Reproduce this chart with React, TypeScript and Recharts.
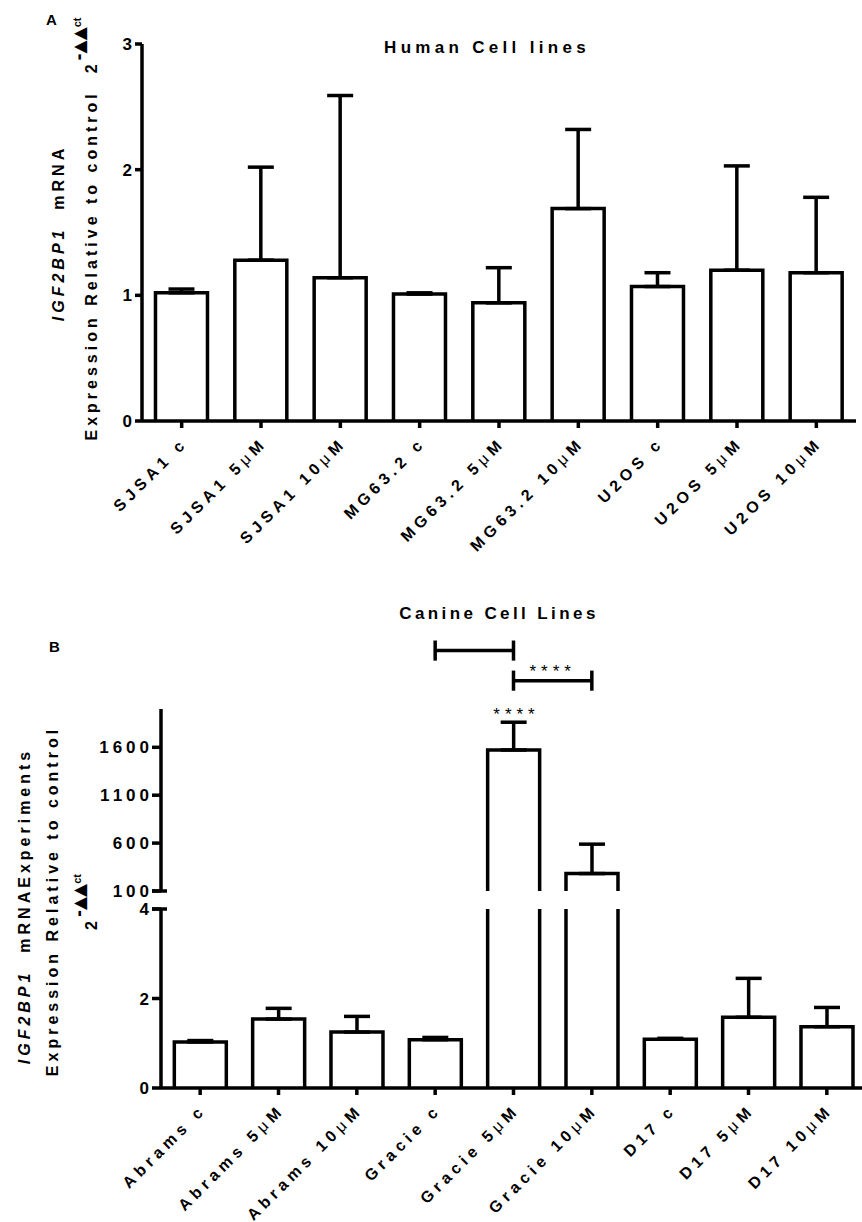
import React from 'react'
import { BarChart, Bar, XAxis, YAxis, ErrorBar, ReferenceLine, ReferenceDot } from 'recharts'

const FONT = "'Liberation Sans', Arial, sans-serif"

// Panel A - human cell lines
const humanLines = ['SJSA1 c', 'SJSA1 5μM', 'SJSA1 10μM', 'MG63.2 c', 'MG63.2 5μM', 'MG63.2 10μM', 'U2OS c', 'U2OS 5μM', 'U2OS 10μM']
const humanMean = [1.02, 1.28, 1.14, 1.01, 0.94, 1.69, 1.07, 1.2, 1.18]
const humanErr = [0.03, 0.74, 1.45, 0.01, 0.28, 0.63, 0.11, 0.83, 0.6]
const humanTicks = [0, 1, 2, 3]

// Panel B - canine cell lines (broken axis)
const canineLines = ['Abrams c', 'Abrams 5μM', 'Abrams 10μM', 'Gracie c', 'Gracie 5μM', 'Gracie 10μM', 'D17 c', 'D17 5μM', 'D17 10μM']
const canineMean = [1.03, 1.54, 1.25, 1.08, 1572, 282, 1.09, 1.58, 1.37]
const canineErr = [0.03, 0.24, 0.35, 0.05, 290, 307, 0.02, 0.87, 0.43]
const lowTicks = [0, 2, 4]
const highTicks = [100, 600, 1100, 1600]
const lowMax = 4
const highDomain = [100, 2000]

// significance brackets (upper segment units)
const bracket1 = { from: 'Gracie c', to: 'Gracie 5μM', level: 2610, tick: 105 }
const bracket2 = { from: 'Gracie 5μM', to: 'Gracie 10μM', level: 2296, tick: 105 }
const starText = '****'

const humanData = humanLines.map((name, i) => ({ name, value: humanMean[i], err: [0, humanErr[i]] }))
const lowData = canineLines.map((name, i) => ({
  name,
  value: canineMean[i],
  err: canineMean[i] > lowMax ? null : [0, canineErr[i]],
}))
const highData = canineLines.map((name, i) => ({
  name,
  value: canineMean[i] > lowMax ? canineMean[i] : null,
  err: canineMean[i] > lowMax ? [0, canineErr[i]] : null,
}))

const LINE_W = 3.5

const OpenBar = (props: any) => {
  const { x, y, width, height, payload } = props
  if (payload == null || payload.value == null || !isFinite(y) || !isFinite(height)) return null
  const bottom = y + height
  return (
    <path
      d={`M${x},${bottom} L${x},${y} L${x + width},${y} L${x + width},${bottom}`}
      fill="#fff"
      stroke="#000"
      strokeWidth={LINE_W}
    />
  )
}

const XTick = (props: any) => {
  const { x, y, payload } = props
  const label: string = payload.value
  const parts = label.split('μ')
  return (
    <text
      transform={`translate(${x + 7},${y + 14}) rotate(-45)`}
      textAnchor="end"
      fontFamily={FONT}
      fontSize={16}
      fontWeight="bold"
      letterSpacing={4.7}
      fill="#000"
    >
      {parts.length > 1 ? (
        <>
          {parts[0]}
          <tspan fontWeight="normal">μ</tspan>
          {parts[1]}
        </>
      ) : (
        label
      )}
    </text>
  )
}

const YTick = (props: any) => {
  const { x, y, payload, breakAt } = props
  return (
    <g>
      <text
        x={x + 3}
        y={y}
        dy="0.36em"
        textAnchor="end"
        fontFamily={FONT}
        fontSize={17}
        fontWeight="bold"
        letterSpacing={4}
        fill="#000"
      >
        {payload.value}
      </text>
      {breakAt === payload.value && (
        <line x1={x + 2} x2={x + 17} y1={y} y2={y} stroke="#000" strokeWidth={LINE_W} />
      )}
    </g>
  )
}

const StarDot = (props: any) => (
  <text
    x={props.cx + 3}
    y={props.cy - 2}
    textAnchor="middle"
    fontFamily={FONT}
    fontSize={17}
    letterSpacing={5}
    fill="#000"
  >
    {starText}
  </text>
)

const axisStyle = { stroke: '#000', strokeWidth: LINE_W }

const Superscript = () => (
  <>
    <tspan dy={-12} fontSize={17} fontFamily="DejaVu Sans" fontWeight="bold" letterSpacing={0}>
      -▲▲
    </tspan>
    <tspan fontSize={11} letterSpacing={0} dy={-4}>
      ct
    </tspan>
  </>
)

const textProps = { fontFamily: FONT, fontWeight: 'bold' as const, fill: '#000' }
const labelProps = { fontSize: 16, letterSpacing: 4, ...textProps }

export default function App() {
  return (
    <div
      style={{
        position: 'absolute',
        left: 0,
        top: 0,
        width: 862,
        height: 1222,
        overflow: 'hidden',
        background: '#fff',
      }}
    >
      <svg width={862} height={1222} style={{ position: 'absolute', left: 0, top: 0 }}>
        <text x={46} y={25} fontSize={15} {...textProps}>A</text>
        <text x={49} y={652} fontSize={15} {...textProps}>B</text>
        <text x={487} y={53} textAnchor="middle" fontSize={17} letterSpacing={4.3} {...textProps}>
          Human Cell lines
        </text>
        <text x={499} y={619} textAnchor="middle" fontSize={17} letterSpacing={3.4} {...textProps}>
          Canine Cell Lines
        </text>

        <text transform="translate(64,233) rotate(-90)" textAnchor="middle" {...labelProps}>
          <tspan fontStyle="italic">IGF2BP1</tspan>
          {'\u00a0 mRNA'}
        </text>
        <text transform="translate(97,229) rotate(-90)" textAnchor="middle" {...labelProps}>
          {'Expression Relative to control\u00a0 2'}
          <Superscript />
        </text>

        <text transform="translate(30,906) rotate(-90)" textAnchor="middle" {...labelProps}>
          <tspan fontStyle="italic">IGF2BP1</tspan>
          {'\u00a0 mRNAExperiments'}
        </text>
        <text transform="translate(58,901) rotate(-90)" textAnchor="middle" {...labelProps}>
          Expression Relative to control
        </text>
        <text transform="translate(97,902) rotate(-90)" textAnchor="middle" {...labelProps}>
          2
          <Superscript />
        </text>
      </svg>

      <div style={{ position: 'absolute', left: 0, top: 0 }}>
        <BarChart
          width={862}
          height={560}
          data={humanData}
          margin={{ top: 44, right: 6, bottom: 0, left: 0 }}
          barCategoryGap="17%"
        >
          <XAxis
            dataKey="name"
            height={139}
            interval={0}
            tickSize={7}
            axisLine={axisStyle}
            tickLine={axisStyle}
            tick={<XTick />}
          />
          <YAxis
            domain={[0, 3]}
            ticks={humanTicks}
            interval={0}
            width={142}
            tickSize={7}
            axisLine={axisStyle}
            tickLine={axisStyle}
            tick={<YTick />}
          />
          <Bar dataKey="value" shape={<OpenBar />} isAnimationActive={false}>
            <ErrorBar dataKey="err" width={13} stroke="#000" strokeWidth={LINE_W} direction="y" />
          </Bar>
        </BarChart>
      </div>

      <div style={{ position: 'absolute', left: 0, top: 600 }}>
        <BarChart
          width={868}
          height={301}
          data={highData}
          margin={{ top: 109, right: 2, bottom: 10, left: 0 }}
          barCategoryGap="17%"
        >
          <XAxis dataKey="name" hide />
          <YAxis
            domain={highDomain}
            ticks={highTicks}
            interval={0}
            allowDataOverflow
            width={161}
            tickSize={9}
            axisLine={axisStyle}
            tickLine={axisStyle}
            tick={<YTick breakAt={highDomain[0]} />}
          />
          <Bar dataKey="value" shape={<OpenBar />} isAnimationActive={false}>
            <ErrorBar dataKey="err" width={13} stroke="#000" strokeWidth={LINE_W} direction="y" />
          </Bar>
          <ReferenceLine
            ifOverflow="visible"
            stroke="#000"
            strokeWidth={LINE_W}
            segment={[{ x: bracket1.from, y: bracket1.level }, { x: bracket1.to, y: bracket1.level }]}
          />
          <ReferenceLine
            ifOverflow="visible"
            stroke="#000"
            strokeWidth={LINE_W}
            segment={[{ x: bracket1.from, y: bracket1.level - bracket1.tick }, { x: bracket1.from, y: bracket1.level + bracket1.tick }]}
          />
          <ReferenceLine
            ifOverflow="visible"
            stroke="#000"
            strokeWidth={LINE_W}
            segment={[{ x: bracket1.to, y: bracket1.level - bracket1.tick }, { x: bracket1.to, y: bracket1.level + bracket1.tick }]}
          />
          <ReferenceLine
            ifOverflow="visible"
            stroke="#000"
            strokeWidth={LINE_W}
            segment={[{ x: bracket2.from, y: bracket2.level }, { x: bracket2.to, y: bracket2.level }]}
            label={{ value: starText, position: 'top', offset: 4, fontSize: 17, fill: '#000', fontFamily: FONT, letterSpacing: 5 }}
          />
          <ReferenceLine
            ifOverflow="visible"
            stroke="#000"
            strokeWidth={LINE_W}
            segment={[{ x: bracket2.from, y: bracket2.level - bracket2.tick }, { x: bracket2.from, y: bracket2.level + bracket2.tick }]}
          />
          <ReferenceLine
            ifOverflow="visible"
            stroke="#000"
            strokeWidth={LINE_W}
            segment={[{ x: bracket2.to, y: bracket2.level - bracket2.tick }, { x: bracket2.to, y: bracket2.level + bracket2.tick }]}
          />
          <ReferenceDot
            x="Gracie 5μM"
            y={canineMean[4] + canineErr[4]}
            r={0}
            ifOverflow="visible"
            shape={<StarDot />}
          />
        </BarChart>
      </div>

      <div style={{ position: 'absolute', left: 0, top: 900 }}>
        <BarChart
          width={868}
          height={322}
          data={lowData}
          margin={{ top: 9, right: 2, bottom: 0, left: 0 }}
          barCategoryGap="17%"
        >
          <XAxis
            dataKey="name"
            height={134}
            interval={0}
            tickSize={7}
            axisLine={axisStyle}
            tickLine={axisStyle}
            tick={<XTick />}
          />
          <YAxis
            domain={[0, lowMax]}
            ticks={lowTicks}
            interval={0}
            allowDataOverflow
            width={161}
            tickSize={9}
            axisLine={axisStyle}
            tickLine={axisStyle}
            tick={<YTick breakAt={lowMax} />}
          />
          <Bar dataKey="value" shape={<OpenBar />} isAnimationActive={false}>
            <ErrorBar dataKey="err" width={13} stroke="#000" strokeWidth={LINE_W} direction="y" />
          </Bar>
        </BarChart>
      </div>
    </div>
  )
}
